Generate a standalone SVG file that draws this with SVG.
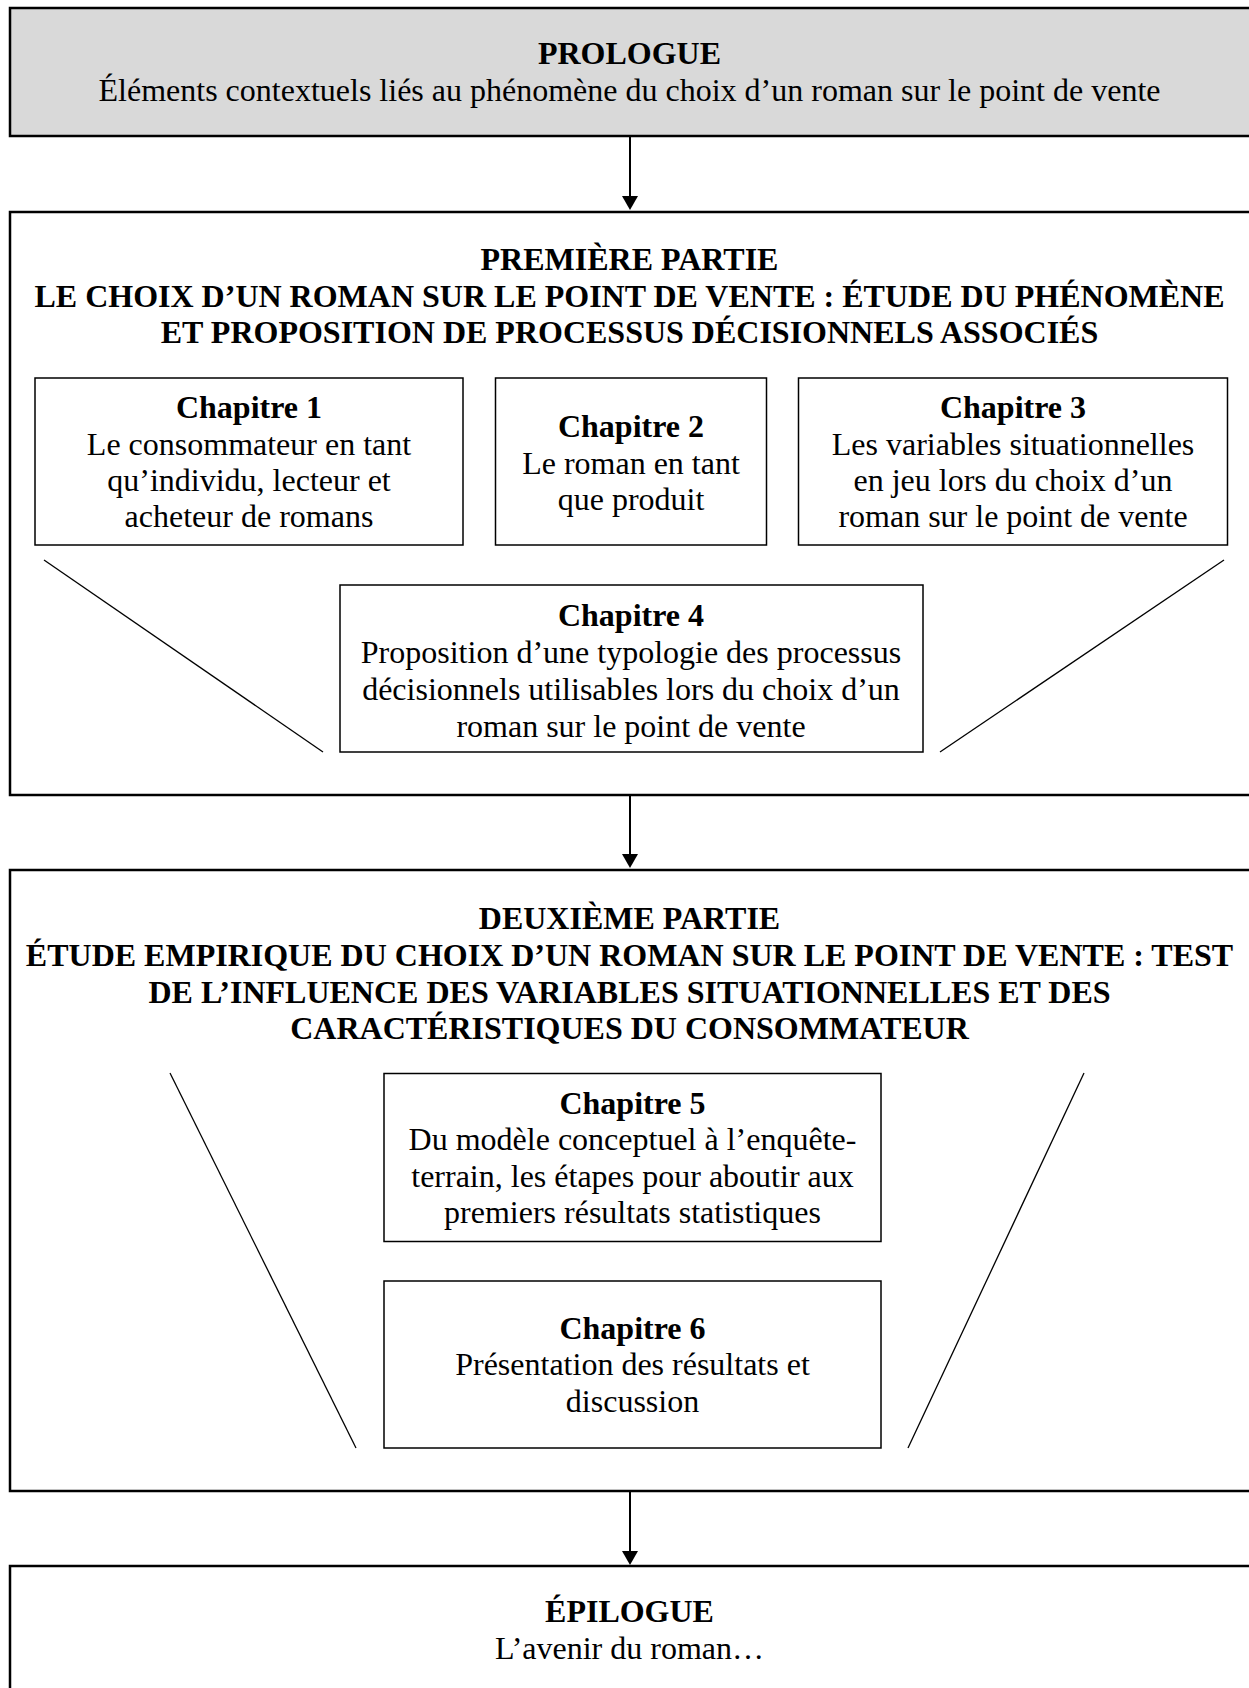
<svg xmlns="http://www.w3.org/2000/svg" width="1249" height="1688" viewBox="0 0 1249 1688">
<style>
.part{fill:#ffffff;stroke:#000;stroke-width:2.5}
.pro{fill:#d9d9d9;stroke:#000;stroke-width:2.5}
.chap{fill:#ffffff;stroke:#000;stroke-width:1.5}
.diag{stroke:#000;stroke-width:1.3;fill:none}
.conn{stroke:#000;stroke-width:2;fill:none}
text{font-family:"Liberation Serif","Times New Roman",serif;font-size:32px;fill:#000;text-anchor:middle}
.b{font-weight:bold}
</style>
<defs>
<marker id="ah" markerWidth="8" markerHeight="7" refX="8" refY="3.5" orient="auto" markerUnits="strokeWidth">
<path d="M0,0 L8,3.5 L0,7 Z" fill="#000"/>
</marker>
</defs>
<rect width="1249" height="1688" fill="#ffffff"/>
<g id="prologue">
<rect class="pro" x="10" y="8" width="1260" height="128"/>
<text class="b" x="629.5" y="64">PROLOGUE</text>
<text x="629.5" y="101">Éléments contextuels liés au phénomène du choix d’un roman sur le point de vente</text>
</g>
<g id="partie1">
<rect class="part" x="10" y="212" width="1260" height="583"/>
<text class="b" x="629.5" y="270">PREMIÈRE PARTIE</text>
<text class="b" x="629.5" y="306.5">LE CHOIX D’UN ROMAN SUR LE POINT DE VENTE : ÉTUDE DU PHÉNOMÈNE</text>
<text class="b" x="629.5" y="343">ET PROPOSITION DE PROCESSUS DÉCISIONNELS ASSOCIÉS</text>
<line class="diag" x1="44" y1="560" x2="323" y2="752"/>
<line class="diag" x1="1224" y1="560" x2="940" y2="752"/>
</g>
<g id="chapitre1">
<rect class="chap" x="35" y="378" width="428" height="167"/>
<text class="b" x="249" y="418">Chapitre 1</text>
<text x="249" y="455">Le consommateur en tant</text>
<text x="249" y="491">qu’individu, lecteur et</text>
<text x="249" y="527">acheteur de romans</text>
</g>
<g id="chapitre2">
<rect class="chap" x="495.5" y="378" width="271" height="167"/>
<text class="b" x="631" y="437">Chapitre 2</text>
<text x="631" y="473.5">Le roman en tant</text>
<text x="631" y="510">que produit</text>
</g>
<g id="chapitre3">
<rect class="chap" x="798.5" y="378" width="429" height="167"/>
<text class="b" x="1013" y="418">Chapitre 3</text>
<text x="1013" y="455">Les variables situationnelles</text>
<text x="1013" y="491">en jeu lors du choix d’un</text>
<text x="1013" y="527">roman sur le point de vente</text>
</g>
<g id="chapitre4">
<rect class="chap" x="340" y="585" width="583" height="167"/>
<text class="b" x="631" y="626">Chapitre 4</text>
<text x="631" y="663">Proposition d’une typologie des processus</text>
<text x="631" y="700">décisionnels utilisables lors du choix d’un</text>
<text x="631" y="736.5">roman sur le point de vente</text>
</g>
<g id="partie2">
<rect class="part" x="10" y="870" width="1260" height="621"/>
<text class="b" x="629.5" y="929">DEUXIÈME PARTIE</text>
<text class="b" x="629.5" y="966">ÉTUDE EMPIRIQUE DU CHOIX D’UN ROMAN SUR LE POINT DE VENTE : TEST</text>
<text class="b" x="629.5" y="1003">DE L’INFLUENCE DES VARIABLES SITUATIONNELLES ET DES</text>
<text class="b" x="629.5" y="1039">CARACTÉRISTIQUES DU CONSOMMATEUR</text>
<line class="diag" x1="170" y1="1073" x2="356" y2="1448"/>
<line class="diag" x1="1084" y1="1073" x2="908" y2="1448"/>
</g>
<g id="chapitre5">
<rect class="chap" x="384" y="1073.5" width="497" height="168"/>
<text class="b" x="632.5" y="1113.5">Chapitre 5</text>
<text x="632.5" y="1150">Du modèle conceptuel à l’enquête-</text>
<text x="632.5" y="1186.5">terrain, les étapes pour aboutir aux</text>
<text x="632.5" y="1223">premiers résultats statistiques</text>
</g>
<g id="chapitre6">
<rect class="chap" x="384" y="1281" width="497" height="167"/>
<text class="b" x="632.5" y="1338.5">Chapitre 6</text>
<text x="632.5" y="1375">Présentation des résultats et</text>
<text x="632.5" y="1411.5">discussion</text>
</g>
<g id="epilogue">
<rect class="part" x="10" y="1566" width="1260" height="140"/>
<text class="b" x="629.5" y="1622">ÉPILOGUE</text>
<text x="629.5" y="1659">L’avenir du roman…</text>
</g>
<g id="connectors">
<line class="conn" x1="630" y1="136" x2="630" y2="197"/>
<polygon points="622,196 638,196 630,210" fill="#000"/>
<line class="conn" x1="630" y1="795" x2="630" y2="855"/>
<polygon points="622,854 638,854 630,868" fill="#000"/>
<line class="conn" x1="630" y1="1491" x2="630" y2="1552"/>
<polygon points="622,1551 638,1551 630,1565" fill="#000"/>
</g>
</svg>
